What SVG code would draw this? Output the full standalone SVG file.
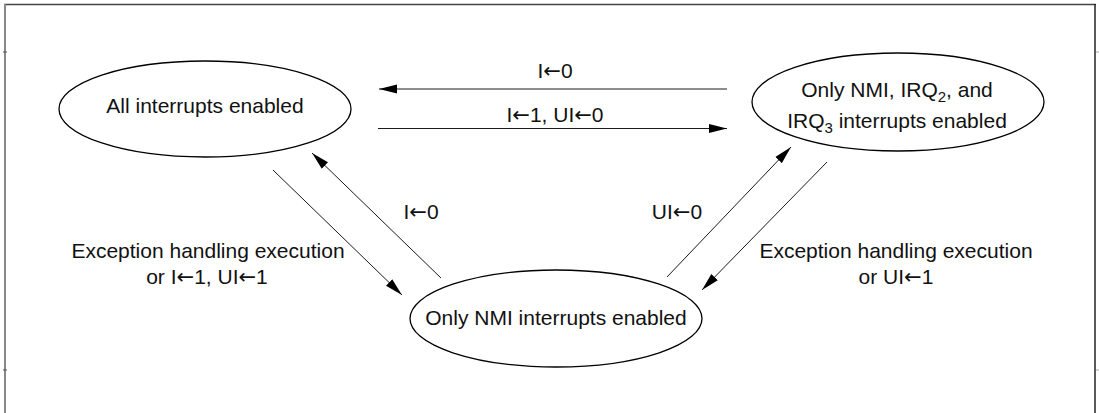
<svg xmlns="http://www.w3.org/2000/svg" width="1099" height="413" viewBox="0 0 1099 413">
<style>
  .node { fill: #ffffff; stroke: #000000; stroke-width: 1.3; }
  .lbl { font-family: "Liberation Sans", Arial, sans-serif; font-size: 21px; fill: #111111; text-anchor: middle; }
  .sub { font-size: 15px; }
  .ar { font-family: "DejaVu Sans", sans-serif; font-size: 21px; }
  .conn { stroke: #1a1a1a; stroke-width: 1; fill: none; marker-end: url(#ah); }
</style>
<defs>
  <marker id="ah" markerUnits="userSpaceOnUse" markerWidth="20" markerHeight="10" refX="18" refY="5" orient="auto">
    <path d="M0,0.5 L18,5 L0,9.5 Z" fill="#000000"/>
  </marker>
</defs>
<rect width="1099" height="413" fill="#ffffff"/>
<g id="frame">
  <line x1="4" y1="4.5" x2="1096" y2="4.5" stroke="#444444" stroke-width="1.5"/>
  <line x1="5" y1="4" x2="5" y2="413" stroke="#888888" stroke-width="2"/>
  <line x1="1095" y1="4" x2="1095" y2="413" stroke="#222222" stroke-width="1.5"/>
  <line x1="3" y1="52" x2="7" y2="52" stroke="#555555" stroke-width="1"/>
  <line x1="3" y1="370" x2="7" y2="370" stroke="#555555" stroke-width="1"/>
  <line x1="1096" y1="52" x2="1099" y2="52" stroke="#aaaaaa" stroke-width="1"/>
  <line x1="1096" y1="370" x2="1099" y2="370" stroke="#aaaaaa" stroke-width="1"/>
</g>
<g id="connectors">
  <line class="conn" x1="727" y1="89" x2="379" y2="89"/>
  <line class="conn" x1="378" y1="128.5" x2="727" y2="128.5"/>
  <line class="conn" x1="273" y1="170" x2="402" y2="295"/>
  <line class="conn" x1="441" y1="278" x2="312" y2="153"/>
  <line class="conn" x1="667" y1="277" x2="791" y2="147"/>
  <line class="conn" x1="827" y1="162" x2="702" y2="290"/>
  <text class="lbl" x="555" y="78">I<tspan class="ar">←</tspan>0</text>
  <text class="lbl" x="555" y="122">I<tspan class="ar">←</tspan>1, UI<tspan class="ar">←</tspan>0</text>
  <text class="lbl" x="421" y="219">I<tspan class="ar">←</tspan>0</text>
  <text class="lbl" x="208" y="258">Exception handling execution</text>
  <text class="lbl" x="207" y="284">or I<tspan class="ar">←</tspan>1, UI<tspan class="ar">←</tspan>1</text>
  <text class="lbl" x="677" y="219">UI<tspan class="ar">←</tspan>0</text>
  <text class="lbl" x="896" y="258">Exception handling execution</text>
  <text class="lbl" x="896" y="284">or UI<tspan class="ar">←</tspan>1</text>
</g>
<g id="node-all">
  <ellipse class="node" cx="205" cy="109" rx="146" ry="48"/>
  <text class="lbl" x="205" y="113">All interrupts enabled</text>
</g>
<g id="node-nmi-irq">
  <ellipse class="node" cx="898" cy="102" rx="146" ry="49"/>
  <text class="lbl" x="897" y="97">Only NMI, IRQ<tspan class="sub" dy="5">2</tspan><tspan dy="-5">, and</tspan></text>
  <text class="lbl" x="897" y="128">IRQ<tspan class="sub" dy="5">3</tspan><tspan dy="-5"> interrupts enabled</tspan></text>
</g>
<g id="node-nmi">
  <ellipse class="node" cx="556" cy="318.5" rx="146" ry="48.5"/>
  <text class="lbl" x="556" y="325">Only NMI interrupts enabled</text>
</g>
</svg>
